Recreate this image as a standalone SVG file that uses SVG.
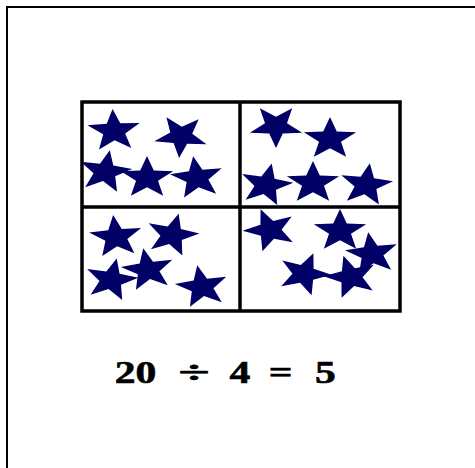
<svg xmlns="http://www.w3.org/2000/svg" xmlns:xlink="http://www.w3.org/1999/xlink" width="475" height="468" viewBox="0 0 475 468">
<style>
.frame{fill:none;stroke:#000;stroke-width:2}
.grid{fill:#fff;stroke:#000;stroke-width:3.5}
.star{fill:#000066}
.eq{font-family:"Liberation Serif","Times New Roman",serif;font-weight:bold;font-size:32px;fill:#000;text-anchor:middle;stroke:#000;stroke-width:0.6}
</style>
<defs>
<path id="star" class="star" d="M0,-22 L5.43,-7.48 L20.92,-6.80 L8.79,2.86 L12.93,17.80 L0,9.24 L-12.93,17.80 L-8.79,2.86 L-20.92,-6.80 L-5.43,-7.48 Z"/>
</defs>
<rect width="475" height="468" fill="#fff"/>
<g id="border">
<path class="frame" d="M7,468 V7 H475"/>
</g>
<g id="grid">
<rect class="grid" x="82" y="102" width="318" height="209"/>
<line x1="240" y1="102" x2="240" y2="311" stroke="#000" stroke-width="3.5"/>
<line x1="82" y1="207" x2="400" y2="207" stroke="#000" stroke-width="3.5"/>
</g>
<g id="q1">
<use xlink:href="#star" transform="translate(114,131) scale(1.25,1) rotate(-3)"/>
<use xlink:href="#star" transform="translate(181,136) scale(1.25,1) rotate(-176)"/>
<use xlink:href="#star" transform="translate(105,172) scale(1.25,1) rotate(10)"/>
<use xlink:href="#star" transform="translate(147,178) scale(1.25,1) rotate(0)"/>
<use xlink:href="#star" transform="translate(197,178) scale(1.25,1) rotate(-8)"/>
</g>
<g id="q2">
<use xlink:href="#star" transform="translate(276,126) scale(1.25,1) rotate(180)"/>
<use xlink:href="#star" transform="translate(330,139) scale(1.25,1) rotate(0)"/>
<use xlink:href="#star" transform="translate(266,185) scale(1.25,1) rotate(12)"/>
<use xlink:href="#star" transform="translate(313,183) scale(1.25,1) rotate(0)"/>
<use xlink:href="#star" transform="translate(366,185) scale(1.25,1) rotate(8)"/>
</g>
<g id="q3">
<use xlink:href="#star" transform="translate(116,237) scale(1.25,1) rotate(-6)"/>
<use xlink:href="#star" transform="translate(172,235) scale(1.25,1) rotate(14)"/>
<use xlink:href="#star" transform="translate(111,280) scale(1.25,1) rotate(12)"/>
<use xlink:href="#star" transform="translate(148,270) scale(1.25,1) rotate(-10)"/>
<use xlink:href="#star" transform="translate(202,287) scale(1.25,1) rotate(-10)"/>
</g>
<g id="q4">
<use xlink:href="#star" transform="translate(270,230) scale(1.25,1) rotate(-20)"/>
<use xlink:href="#star" transform="translate(340,231) scale(1.25,1) rotate(0)"/>
<use xlink:href="#star" transform="translate(372,254) scale(1.25,1) rotate(-8)"/>
<use xlink:href="#star" transform="translate(304,274) scale(1.25,1) rotate(20)"/>
<use xlink:href="#star" transform="translate(351,277) scale(1.25,1) rotate(-16)"/>
</g>
<g id="equation">
<text class="eq" transform="translate(135.5,383) scale(1.3,1)">20</text>
<text class="eq" transform="translate(194,383) scale(1.8,1)">÷</text>
<text class="eq" transform="translate(240,383) scale(1.3,1)">4</text>
<text class="eq" transform="translate(280.5,383) scale(1.3,1)">=</text>
<text class="eq" transform="translate(325.5,383) scale(1.3,1)">5</text>
</g>
</svg>
